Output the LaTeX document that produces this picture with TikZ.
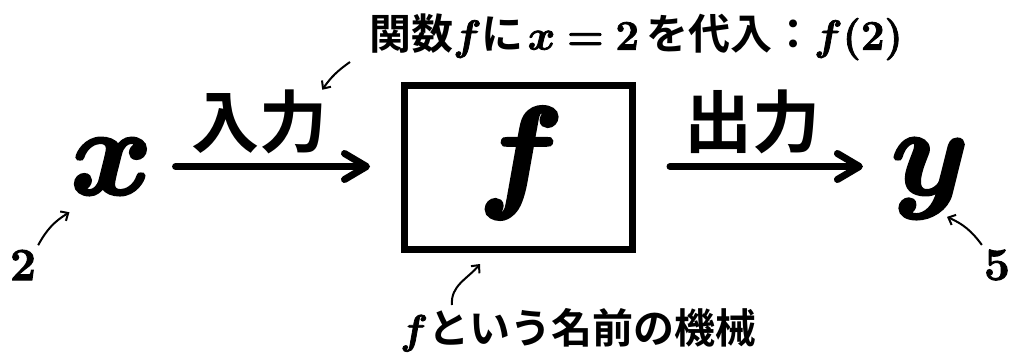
\RequirePackage{fix-cm}
\documentclass[tikz,border=0pt]{standalone}
\usepackage{fontspec}
\usepackage{bm}
\newfontfamily\jp{Noto Sans CJK JP Bold}
\newcommand{\heavy}[2]{\special{pdf:literal direct 2 Tr #1 w}#2\special{pdf:literal direct 0 Tr}}
\usetikzlibrary{arrows.meta,calc}
\begin{document}
\begin{tikzpicture}[x=1pt,y=1pt,
  big/.style={inner sep=0pt, font=\fontsize{124}{124}\selectfont},
  jpbig/.style={inner sep=0pt, font=\fontsize{68}{68}\selectfont\jp},
  jplabel/.style={inner sep=0pt, font=\fontsize{42}{42}\selectfont},
  botlabel/.style={inner sep=0pt, font=\fontsize{41}{41}\selectfont},
  numlabel/.style={inner sep=0pt, font=\fontsize{46}{46}\selectfont\bfseries},
  bigarrow/.style={line width=7pt, line cap=round, -{Straight Barb[length=22pt,width=26pt,line cap=round,line join=round]}},
  pointer/.style={line width=2pt, -{Straight Barb[length=6pt,width=11pt]}},
  machine/.style={draw, line width=7pt, minimum width=228pt, minimum height=164pt, inner sep=0pt}]
\useasboundingbox (0,0) rectangle (1013,360);
\node[machine] (box) at (518.5,192.5) {};
\node[big, anchor=base] (fn) at (521,166) {\heavy{4}{$\bm{f}$}};
\node[big] (xn) at (111.5,193.5) {\heavy{3}{$\bm{x}$}};
\node[big, anchor=base] (yn) at (930,166) {\heavy{3}{$\bm{y}$}};
\node[jpbig] (inlab) at (259,238) {入力};
\node[jpbig] (outlab) at (752,238) {出力};
\node[jplabel, anchor=west] (toptext) at (369,323) {{\jp 関数}\heavy{0.8}{$\bm{f}$}{\jp に}\hspace{4pt}\heavy{0.8}{$\bm{x=2}$}\hspace{7pt}{\jp を代入：}\heavy{0.8}{$\bm{f(2)}$}};
\node[botlabel, anchor=west] (bottext) at (400,30) {\heavy{0.8}{$\bm{f}$}{\jp という名前の機械}};
\node[numlabel] (two) at (23,95) {\heavy{1}{2}};
\node[numlabel] (five) at (997,95) {\heavy{1}{5}};
\draw[bigarrow] ($(xn.east)+(23,0)$) -- ($(box.west |- xn.east)+(-31,0)$);
\draw[bigarrow] ($(box.east |- xn.east)+(34,0)$) -- ($(yn.west |- xn.east)+(-28,0)$);
\draw[pointer] ($(two.north east)+(2,4.5)$) to[bend left=15] ($(xn.south west)+(-1,-18)$);
\draw[pointer] ($(five.north west)+(-2,4.5)$) to[bend right=15] ($(yn.south)+(17,1.4)$);
\draw[pointer] ($(toptext.west)+(-19,-25)$) to[bend right=10] ($(inlab.north east)+(-5,0)$);
\draw[pointer] ($(bottext.west)+(52,25)$) to[out=95,in=230] ($(box.south)+(-38.5,-11)$);
\end{tikzpicture}
\end{document}
